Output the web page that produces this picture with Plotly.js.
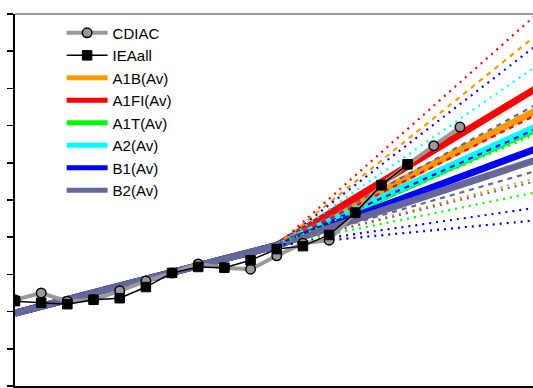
<!DOCTYPE html>
<html>
<head>
<meta charset="utf-8">
<script src="https://cdn.plot.ly/plotly-3.0.1.min.js"></script>
<style>html,body{margin:0;padding:0;background:#fff;}#chart{width:533px;height:388px;}</style>
</head>
<body>
<div id="chart"></div>
<script>
// Observed emissions (GtC/yr)
var cdiacYears = [1990,1991,1992,1993,1994,1995,1996,1997,1998,1999,2000,2001,2002,2003,2004,2005,2006,2007];
var cdiacValues = [6.16,6.25,6.14,6.16,6.28,6.41,6.52,6.64,6.59,6.57,6.75,6.92,6.96,7.33,7.70,7.98,8.23,8.48];
var ieaYears = [1990,1991,1992,1993,1994,1995,1996,1997,1998,1999,2000,2001,2002,2003,2004,2005];
var ieaValues = [6.14,6.12,6.10,6.16,6.18,6.33,6.52,6.60,6.59,6.69,6.84,6.88,7.03,7.33,7.70,7.98];

// SRES scenario averages
var scenYears = [1990, 2000, 2010];
var scenStart = [5.98, 6.89];
var avgNames = ["A1B(Av)", "A1FI(Av)", "A1T(Av)", "A2(Av)", "B1(Av)", "B2(Av)"];
var avgColors = ["#ff9900", "#ff0000", "#00ff00", "#00ffff", "#0000ff", "#666699"];
var avg2010 = [8.72, 9.02, 8.47, 8.50, 8.20, 8.05];
var avgDraw = [2, 0, 1, 3, 4, 5]; // drawing order

// Individual scenario runs (family index, 2010 value, dash)
var runFamily = [1, 0, 4, 3, 5, 1, 4, 2, 5, 0, 5, 2, 4, 4];
var run2010 =   [10.02, 9.74, 9.60, 9.32, 8.80, 8.66, 8.47, 8.40, 7.90, 7.80, 7.76, 7.61, 7.40, 7.23];
var runDash =   ["dot","dash","dot","dot","dash","dash","dash","dot","dash","dot","dot","dot","dot","dot"];
var dashPatterns = {dot: "2px,5px", dash: "5px,5px"};

var traces = [];
avgDraw.forEach(function(i){
  traces.push({
    x: scenYears, y: scenStart.concat([avg2010[i]]),
    mode: "lines", showlegend: false,
    line: {color: avgColors[i], width: 7}
  });
});
for (var k = 0; k < run2010.length; k++) {
  traces.push({
    x: scenYears.slice(1), y: [scenStart[1], run2010[k]],
    mode: "lines", showlegend: false, hoverinfo: "skip",
    line: {color: avgColors[runFamily[k]], width: 2.2, dash: dashPatterns[runDash[k]]}
  });
}
traces.push({
  x: cdiacYears, y: cdiacValues, name: "CDIAC", mode: "lines+markers", legendrank: 1,
  line: {color: "#999999", width: 4},
  marker: {symbol: "circle", size: 9.5, color: "#999999", line: {color: "#000", width: 1.5}}
});
traces.push({
  x: ieaYears, y: ieaValues, name: "IEAall", mode: "lines+markers", legendrank: 2,
  line: {color: "#000000", width: 1.5},
  marker: {symbol: "square", size: 9.5, color: "#000000", line: {color: "#000", width: 1}}
});
// legend entries for the averages (thinner line sample, like the reference key)
avgNames.forEach(function(n, i){
  traces.push({
    x: [null], y: [null], mode: "lines", name: n, legendrank: 10 + i,
    line: {color: avgColors[i], width: 5}
  });
});

var layout = {
  width: 533, height: 388,
  margin: {l: 15, r: 0, t: 14, b: 2},
  paper_bgcolor: "#fff", plot_bgcolor: "#fff",
  showlegend: true,
  font: {family: "Liberation Sans, Arial, sans-serif", size: 15, color: "#000"},
  legend: {x: 0.09, y: 0.993, xanchor: "left", yanchor: "top", bgcolor: "rgba(0,0,0,0)",
           borderwidth: 0, itemwidth: 41, font: {size: 15}},
  xaxis: {range: [1990, 2009.79], dtick: 5, tick0: 1990, showgrid: false, zeroline: false,
          showticklabels: false, ticks: "outside", ticklen: 5, tickcolor: "#000",
          showline: true, linecolor: "#000", linewidth: 2},
  yaxis: {range: [5, 10], dtick: 0.5, tick0: 5, showgrid: false, zeroline: false,
          showticklabels: false, ticks: "outside", ticklen: 6, tickcolor: "#000", tickwidth: 1.5,
          showline: true, linecolor: "#000", linewidth: 2},
  shapes: [{type: "line", xref: "paper", yref: "paper", x0: 0, x1: 1, y0: 1, y1: 1,
            line: {color: "#999999", width: 2}}]
};
Plotly.newPlot("chart", traces, layout, {displayModeBar: false, staticPlot: true});
</script>
</body>
</html>
